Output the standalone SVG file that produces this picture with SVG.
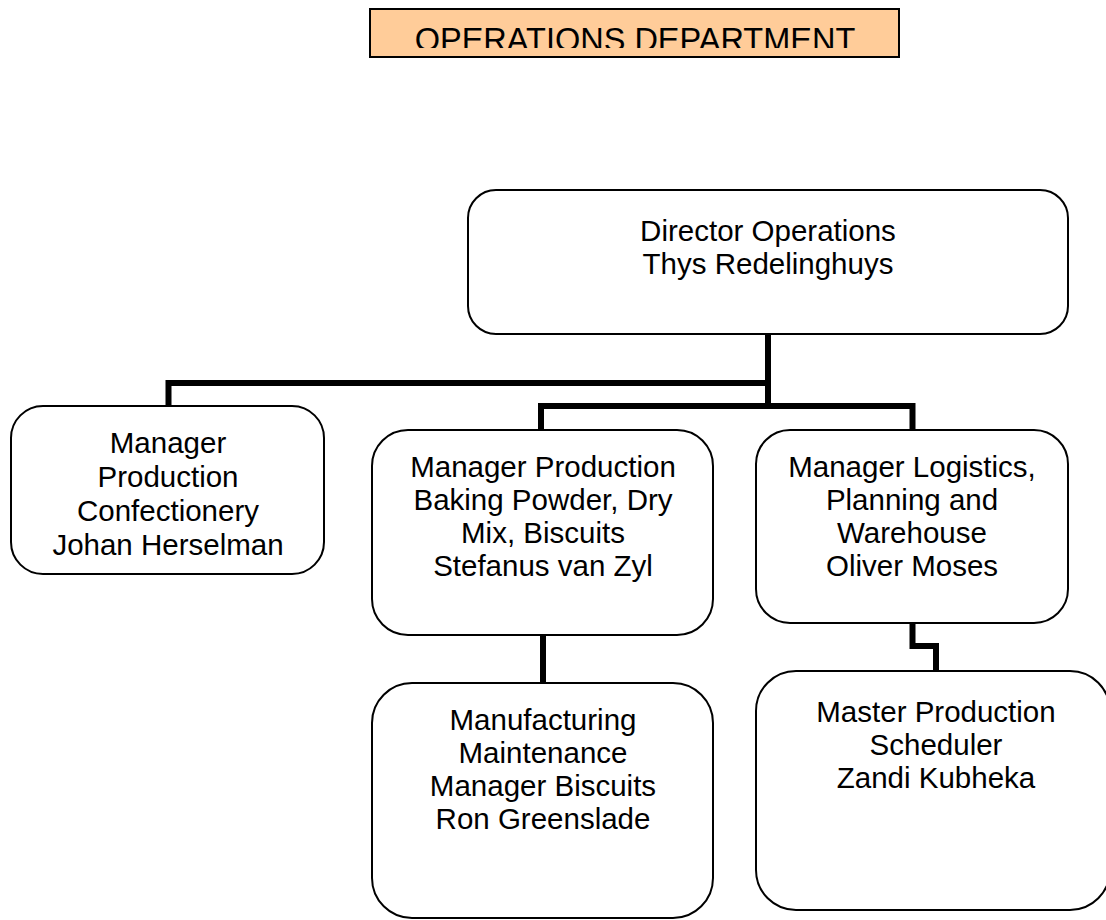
<svg xmlns="http://www.w3.org/2000/svg" width="1106" height="920" viewBox="0 0 1106 920">
<style>
.box{fill:#fff;stroke:#000;stroke-width:2}
.t{font-family:"Liberation Sans",Arial,sans-serif;font-size:29.5px;fill:#000;text-anchor:middle}
.c{fill:none;stroke:#000;stroke-width:6;stroke-linejoin:miter;stroke-linecap:square}
</style>
<defs>
<clipPath id="titleclip"><rect x="371" y="10" width="527" height="38"/></clipPath>
</defs>
<rect width="1106" height="920" fill="#fff"/>
<g id="title">
<rect x="370" y="9" width="529" height="48" fill="#FFCC99" stroke="#000" stroke-width="2"/>
<text class="t" x="635" y="51" style="font-size:32.5px" clip-path="url(#titleclip)">OPERATIONS DEPARTMENT</text>
</g>
<g id="connectors">
<path class="c" d="M768,335 V406"/>
<path class="c" d="M768,383 H168.5 V405"/>
<path class="c" d="M541,430 V406 H912.5 V430"/>
<path class="c" d="M543,636 V682"/>
<path class="c" d="M912.5,624 V646 H936 V670"/>
</g>
<g id="director">
<rect class="box" x="468" y="190" width="600" height="144" rx="28"/>
<text class="t" x="768" y="241">Director Operations</text>
<text class="t" x="768" y="274">Thys Redelinghuys</text>
</g>
<g id="confectionery">
<rect class="box" x="11" y="406" width="313" height="168" rx="32"/>
<text class="t" x="168" y="453">Manager</text>
<text class="t" x="168" y="487">Production</text>
<text class="t" x="168" y="521">Confectionery</text>
<text class="t" x="168" y="555">Johan Herselman</text>
</g>
<g id="baking">
<rect class="box" x="372" y="430" width="341" height="205" rx="36"/>
<text class="t" x="543" y="477">Manager Production</text>
<text class="t" x="543" y="510">Baking Powder, Dry</text>
<text class="t" x="543" y="543">Mix, Biscuits</text>
<text class="t" x="543" y="576">Stefanus van Zyl</text>
</g>
<g id="logistics">
<rect class="box" x="756" y="430" width="312" height="193" rx="34"/>
<text class="t" x="912" y="477">Manager Logistics,</text>
<text class="t" x="912" y="510">Planning and</text>
<text class="t" x="912" y="543">Warehouse</text>
<text class="t" x="912" y="576">Oliver Moses</text>
</g>
<g id="maintenance">
<rect class="box" x="372" y="683" width="341" height="235" rx="40"/>
<text class="t" x="543" y="730">Manufacturing</text>
<text class="t" x="543" y="763">Maintenance</text>
<text class="t" x="543" y="796">Manager Biscuits</text>
<text class="t" x="543" y="829">Ron Greenslade</text>
</g>
<g id="scheduler">
<rect class="box" x="756" y="671" width="354" height="239" rx="40"/>
<text class="t" x="936" y="722">Master Production</text>
<text class="t" x="936" y="755">Scheduler</text>
<text class="t" x="936" y="788">Zandi Kubheka</text>
</g>
</svg>
